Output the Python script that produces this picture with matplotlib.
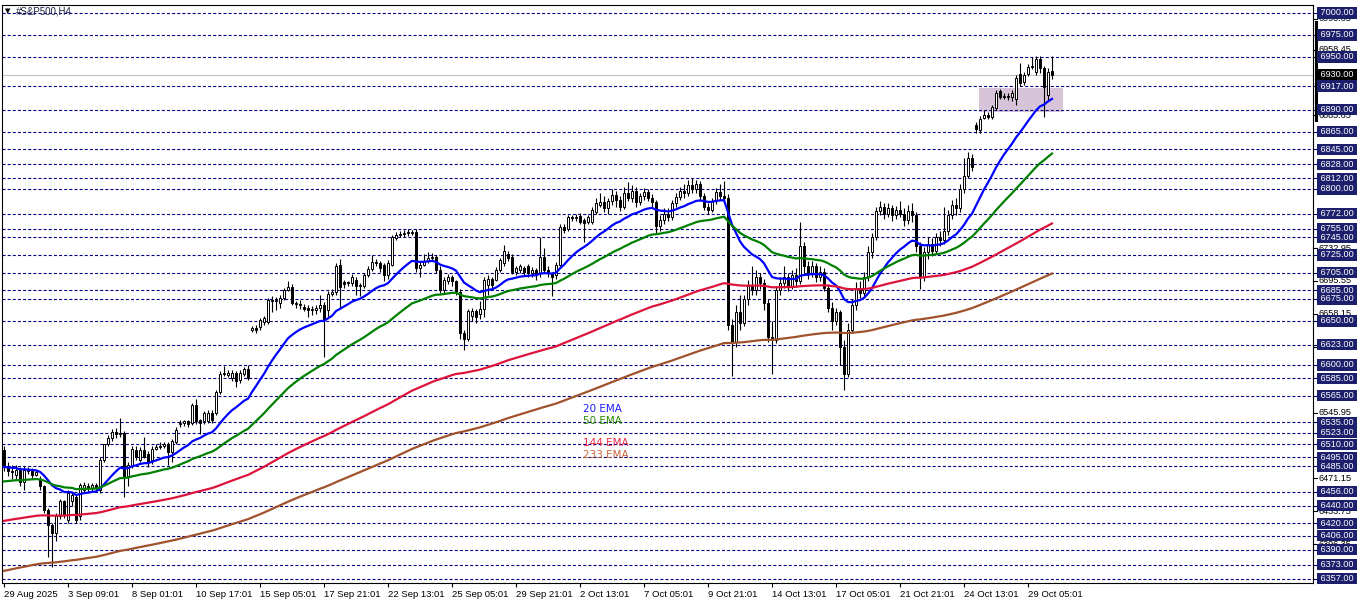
import matplotlib.pyplot as plt
import matplotlib.transforms as mtransforms
from matplotlib.patches import Rectangle
import numpy as np

plt.rcParams['font.family'] = ['Liberation Sans', 'DejaVu Sans']
plt.rcParams['lines.scale_dashes'] = False

# H4 candles (open, high, low, close)
opens = [6503, 6485, 6480, 6475, 6481, 6467, 6481, 6479, 6475, 6470,
         6462, 6435, 6418, 6409, 6428, 6445, 6424, 6445, 6450, 6428,
         6458, 6462, 6460, 6464, 6458, 6492, 6510, 6517, 6524, 6522,
         6523, 6474, 6486, 6503, 6492, 6503, 6499, 6492, 6505, 6507,
         6508, 6510, 6501, 6513, 6533, 6534, 6536, 6534, 6554, 6537,
         6536, 6536, 6546, 6545, 6569, 6590, 6589, 6585, 6591, 6583,
         6590, 6595, 6640, 6642, 6643, 6649, 6649, 6674, 6673, 6671,
         6676, 6685, 6689, 6670, 6669, 6666, 6665, 6662, 6663, 6665,
         6668, 6662, 6681, 6683, 6714, 6694, 6694, 6693, 6697, 6690,
         6690, 6702, 6709, 6717, 6716, 6714, 6702, 6714, 6744, 6748,
         6749, 6750, 6750, 6751, 6710, 6714, 6718, 6722, 6723, 6708,
         6685, 6695, 6700, 6695, 6683, 6636, 6630, 6656, 6661, 6658,
         6664, 6691, 6698, 6697, 6708, 6716, 6726, 6723, 6706, 6708,
         6710, 6712, 6704, 6708, 6704, 6723, 6708, 6704, 6702, 6714,
         6757, 6755, 6768, 6767, 6769, 6765, 6763, 6763, 6774, 6782,
         6785, 6778, 6786, 6793, 6788, 6780, 6795, 6790, 6798, 6785,
         6792, 6797, 6790, 6785, 6758, 6765, 6772, 6768, 6784, 6791,
         6798, 6795, 6805, 6800, 6806, 6792, 6780, 6776, 6786, 6797,
         6792, 6790, 6645, 6626, 6660, 6648, 6675, 6690, 6685, 6700,
         6693, 6670, 6632, 6628, 6685, 6693, 6700, 6690, 6702, 6696,
         6735, 6712, 6705, 6712, 6700, 6706, 6688, 6665, 6650, 6660,
         6620, 6590, 6640, 6668, 6688, 6682, 6700, 6728, 6745, 6775,
         6780, 6772, 6778, 6770, 6776, 6772, 6765, 6775, 6770, 6735,
         6700, 6728, 6738, 6730, 6745, 6742, 6752, 6770, 6782, 6778,
         6800, 6815, 6835, 6873, 6867, 6881, 6884, 6882, 6892, 6911,
         6905, 6906, 6904, 6902, 6931, 6922, 6931, 6939, 6933, 6948,
         6937, 6907, 6934]
highs = [6508, 6490, 6486, 6486, 6484, 6485, 6484, 6483, 6481, 6474,
         6464, 6438, 6420, 6432, 6448, 6447, 6458, 6456, 6452, 6466,
         6467, 6466, 6466, 6466, 6495, 6509, 6520, 6527, 6528, 6540,
         6525, 6490, 6508, 6508, 6507, 6518, 6502, 6508, 6510, 6512,
         6513, 6512, 6516, 6530, 6537, 6538, 6538, 6557, 6561, 6539,
         6548, 6549, 6549, 6572, 6593, 6599, 6594, 6594, 6593, 6594,
         6598, 6600, 6644, 6646, 6653, 6656, 6676, 6678, 6677, 6679,
         6688, 6695, 6692, 6673, 6674, 6669, 6668, 6667, 6668, 6680,
         6672, 6684, 6686, 6716, 6720, 6697, 6696, 6703, 6700, 6693,
         6705, 6712, 6725, 6720, 6718, 6716, 6719, 6748, 6751, 6752,
         6753, 6754, 6753, 6754, 6718, 6726, 6728, 6727, 6725, 6712,
         6700, 6703, 6702, 6697, 6686, 6640, 6664, 6665, 6664, 6673,
         6700, 6702, 6700, 6711, 6722, 6736, 6729, 6726, 6713, 6715,
         6713, 6715, 6711, 6710, 6745, 6733, 6712, 6706, 6717, 6760,
         6760, 6771, 6771, 6772, 6773, 6767, 6771, 6779, 6790, 6795,
         6792, 6790, 6800, 6798, 6792, 6802, 6808, 6805, 6802, 6796,
         6801, 6800, 6794, 6787, 6770, 6778, 6778, 6788, 6796, 6802,
         6806, 6810, 6812, 6810, 6809, 6795, 6784, 6790, 6801, 6806,
         6809, 6794, 6652, 6668, 6680, 6680, 6697, 6712, 6708, 6705,
         6698, 6675, 6650, 6690, 6700, 6712, 6705, 6708, 6710, 6762,
         6740, 6718, 6718, 6716, 6712, 6710, 6692, 6672, 6665, 6662,
         6628, 6648, 6675, 6694, 6695, 6706, 6735, 6750, 6780, 6786,
         6784, 6784, 6782, 6781, 6786, 6778, 6782, 6784, 6774, 6740,
         6734, 6745, 6744, 6750, 6752, 6780, 6776, 6788, 6790, 6806,
         6835, 6842, 6840, 6876, 6883, 6890, 6887, 6896, 6912, 6914,
         6909, 6909, 6912, 6929, 6943, 6933, 6942, 6950, 6951, 6951,
         6940, 6937, 6951]
lows = [6480, 6474, 6470, 6470, 6462, 6458, 6476, 6472, 6474, 6458,
        6432, 6382, 6371, 6400, 6425, 6426, 6420, 6440, 6420, 6424,
        6455, 6456, 6457, 6456, 6455, 6490, 6508, 6514, 6517, 6518,
        6450, 6462, 6483, 6492, 6490, 6494, 6484, 6488, 6503, 6504,
        6506, 6486, 6490, 6510, 6530, 6531, 6530, 6532, 6533, 6522,
        6533, 6534, 6534, 6543, 6567, 6588, 6586, 6582, 6575, 6580,
        6588, 6583, 6638, 6636, 6640, 6646, 6647, 6660, 6662, 6665,
        6674, 6684, 6668, 6665, 6664, 6661, 6655, 6657, 6658, 6660,
        6609, 6655, 6678, 6680, 6665, 6688, 6690, 6690, 6680, 6678,
        6688, 6700, 6707, 6712, 6706, 6695, 6698, 6712, 6742, 6745,
        6746, 6747, 6748, 6706, 6700, 6712, 6716, 6719, 6705, 6682,
        6682, 6692, 6690, 6680, 6630, 6617, 6627, 6650, 6648, 6652,
        6655, 6680, 6688, 6695, 6706, 6713, 6718, 6703, 6702, 6705,
        6702, 6700, 6700, 6697, 6700, 6705, 6700, 6678, 6698, 6712,
        6750, 6752, 6764, 6764, 6760, 6740, 6760, 6760, 6772, 6779,
        6774, 6772, 6782, 6780, 6775, 6777, 6786, 6785, 6780, 6782,
        6788, 6786, 6780, 6750, 6752, 6760, 6764, 6765, 6780, 6788,
        6790, 6792, 6796, 6795, 6788, 6776, 6772, 6774, 6783, 6788,
        6784, 6640, 6587, 6620, 6640, 6644, 6668, 6680, 6680, 6686,
        6662, 6626, 6590, 6625, 6680, 6688, 6684, 6686, 6690, 6692,
        6705, 6698, 6700, 6694, 6696, 6684, 6660, 6640, 6645, 6600,
        6572, 6586, 6636, 6662, 6676, 6678, 6696, 6722, 6742, 6770,
        6766, 6768, 6764, 6766, 6768, 6758, 6760, 6762, 6728, 6686,
        6695, 6720, 6724, 6726, 6735, 6738, 6748, 6766, 6770, 6774,
        6795, 6812, 6820, 6864, 6864, 6879, 6879, 6879, 6890, 6902,
        6902, 6901, 6900, 6896, 6917, 6918, 6928, 6936, 6930, 6932,
        6882, 6900, 6925]
closes = [6485, 6480, 6478, 6481, 6467, 6481, 6479, 6475, 6478, 6462,
          6435, 6418, 6409, 6428, 6445, 6429, 6454, 6452, 6424, 6464,
          6464, 6460, 6464, 6460, 6492, 6510, 6517, 6524, 6522, 6523,
          6474, 6486, 6505, 6496, 6503, 6496, 6490, 6504, 6507, 6508,
          6510, 6501, 6514, 6526, 6534, 6536, 6533, 6554, 6536, 6534,
          6545, 6545, 6537, 6569, 6590, 6591, 6591, 6591, 6582, 6591,
          6595, 6585, 6642, 6640, 6651, 6653, 6674, 6673, 6674, 6676,
          6685, 6689, 6670, 6669, 6668, 6664, 6662, 6664, 6665, 6668,
          6651, 6681, 6683, 6712, 6689, 6692, 6693, 6700, 6690, 6690,
          6702, 6709, 6717, 6716, 6710, 6702, 6716, 6745, 6748, 6749,
          6750, 6750, 6751, 6710, 6714, 6718, 6722, 6723, 6708, 6685,
          6697, 6700, 6695, 6683, 6636, 6630, 6661, 6661, 6655, 6664,
          6697, 6698, 6691, 6708, 6719, 6729, 6722, 6706, 6710, 6712,
          6706, 6704, 6708, 6702, 6723, 6708, 6704, 6700, 6714, 6757,
          6753, 6768, 6767, 6768, 6763, 6761, 6768, 6776, 6784, 6785,
          6778, 6786, 6793, 6788, 6780, 6795, 6790, 6798, 6785, 6792,
          6797, 6790, 6785, 6758, 6765, 6772, 6768, 6784, 6791, 6798,
          6795, 6805, 6800, 6806, 6792, 6780, 6776, 6786, 6797, 6792,
          6790, 6645, 6626, 6660, 6648, 6675, 6690, 6685, 6700, 6693,
          6670, 6632, 6628, 6685, 6693, 6700, 6690, 6702, 6696, 6735,
          6712, 6705, 6712, 6700, 6706, 6688, 6665, 6650, 6660, 6620,
          6590, 6640, 6668, 6688, 6682, 6700, 6728, 6745, 6775, 6780,
          6772, 6778, 6770, 6776, 6772, 6765, 6775, 6770, 6735, 6700,
          6728, 6738, 6730, 6745, 6742, 6752, 6770, 6782, 6778, 6800,
          6815, 6835, 6825, 6868, 6880, 6884, 6882, 6893, 6909, 6905,
          6906, 6905, 6909, 6926, 6920, 6930, 6939, 6940, 6948, 6937,
          6916, 6933, 6930]

tick_bars = [0, 16, 32, 48, 64, 80, 96, 112, 128, 144, 160, 176, 192, 208, 224, 240, 256]
tick_labels = ['29 Aug 2025', '3 Sep 09:01', '8 Sep 01:01', '10 Sep 17:01', '15 Sep 05:01',
               '17 Sep 21:01', '22 Sep 13:01', '25 Sep 05:01', '29 Sep 21:01', '2 Oct 13:01',
               '7 Oct 05:01', '9 Oct 21:01', '14 Oct 13:01', '17 Oct 05:01', '21 Oct 21:01',
               '24 Oct 13:01', '29 Oct 05:01']

# horizontal levels drawn on the chart
levels = [7000, 6975, 6950, 6917, 6890, 6865, 6845, 6828, 6812, 6800, 6772, 6755,
          6745, 6725, 6705, 6685, 6675, 6650, 6623, 6600, 6585, 6565, 6535, 6523,
          6510, 6495, 6485, 6456, 6440, 6420, 6406, 6390, 6373, 6357]
scale_marks = [6993.65, 6958.45, 6883.65, 6732.95, 6695.55, 6658.15, 6620.75,
               6545.95, 6471.15, 6433.75, 6396.35]
bid = 6930.00
zone_bars = (243.75, 264.75)
zone_prices = (6887.5, 6914.8)

ema_names = ['20 EMA', '50 EMA', '144 EMA', '233 EMA']
ema_periods = [20, 50, 144, 233]
ema_start = [6484, 6467, 6422, 6365]
ema_colors = ['#0000ff', '#008000', '#dc143c', '#a0522d']
ema_text_colors = ['#1a1aff', '#2a8a00', '#f0284a', '#c8643c']
ema_text_prices = [6550, 6536.4, 6511.4, 6497.7]


def ema(vals, n, seed):
    k = 2.0 / (n + 1)
    e = seed
    out = []
    for v in vals:
        e = e + k * (v - e)
        out.append(e)
    return np.array(out)


o = np.array(opens, float)
h = np.array(highs, float)
l = np.array(lows, float)
c = np.array(closes, float)
x = np.arange(len(c))

fig = plt.figure(figsize=(13.62, 6.03), dpi=100)
ax = fig.add_axes([2 / 1362, 20 / 603, 1311 / 1362, 578 / 603])
ax.set_xlim(-0.5, 327.25)
ax.set_ylim(6352.27, 7009.09)

for p in levels:
    ax.axhline(p, color='#000080', lw=0.8, ls=(0, (2.2, 1.5)), zorder=1)
ax.axhline(bid, color='#c0c0c0', lw=0.8, zorder=1)

ax.add_patch(Rectangle((zone_bars[0], zone_prices[0]), zone_bars[1] - zone_bars[0],
                       zone_prices[1] - zone_prices[0], fc='#d8c4d8', ec='none', zorder=0.5))

# candles
ax.vlines(x, l, h, color='black', lw=0.8, zorder=2)
up = c >= o
body_lo = np.minimum(o, c)
body_h = np.maximum(np.abs(c - o), 0.6)
ax.bar(x[up], body_h[up], bottom=body_lo[up], width=0.5, color='white',
       edgecolor='black', lw=0.7, zorder=3)
ax.bar(x[~up], body_h[~up], bottom=body_lo[~up], width=0.5, color='black',
       edgecolor='black', lw=0.7, zorder=3)

for n, s, col in zip(ema_periods, ema_start, ema_colors):
    ax.plot(x, ema(c, n, s), color=col, lw=1.6, zorder=4)

for name, col, p in zip(ema_names, ema_text_colors, ema_text_prices):
    ax.text(144.7, p, name, color=col, fontsize=7.5, va='center', ha='left', zorder=5,
            family='DejaVu Sans')

# time axis
ax.set_xticks(tick_bars)
ax.set_xticklabels(tick_labels, ha='left', fontsize=6.8)
ax.tick_params(axis='x', direction='out', length=3, width=0.8, pad=2)
ax.set_yticks([])
for sp in ax.spines.values():
    sp.set_color('black')
    sp.set_linewidth(0.8)

# price scale on the right
tr = mtransforms.blended_transform_factory(ax.transAxes, ax.transData)
for p in scale_marks:
    ax.plot([1.0, 1.003], [p, p], color='black', lw=0.8, transform=tr, clip_on=False)
    ax.text(1.0045, p, '%.2f' % p, fontsize=6.6, color='black', va='center', ha='left',
            transform=tr, clip_on=False, zorder=6)
ax.plot([1.0023, 1.0023], [6878.4, 6989.8], color='black', lw=2.2, transform=tr,
        clip_on=False, zorder=6)
for p in levels:
    ax.plot([1.0, 1.003], [p, p], color='#000080', lw=0.8, transform=tr, clip_on=False)
    ax.text(1.0038, p, ' %.2f ' % p, fontsize=6.6, color='white', va='center', ha='left',
            transform=tr, clip_on=False, zorder=7,
            bbox=dict(boxstyle='square,pad=0.12', fc='#1c1f6b', ec='none'))
ax.text(1.0038, bid, ' %.2f ' % bid, fontsize=6.6, color='white', va='center', ha='left',
        transform=tr, clip_on=False, zorder=8,
        bbox=dict(boxstyle='square,pad=0.12', fc='black', ec='none'))

fig.text(5 / 1362, 1 - 11 / 603, '\u25bc', fontsize=5, va='center', ha='left',
         family='DejaVu Sans')
fig.text(16 / 1362, 1 - 11 / 603, '#S&P500,H4', fontsize=7, va='center', ha='left',
         color='#202040')

fig.savefig('out.png', dpi=100)
